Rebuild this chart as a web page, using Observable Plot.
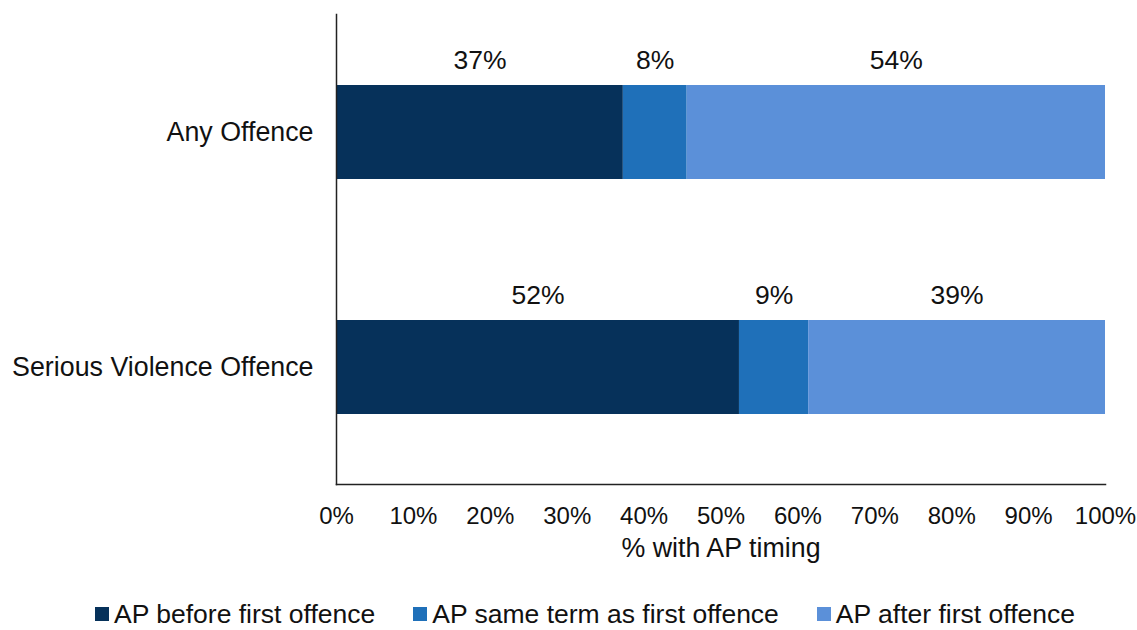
<!DOCTYPE html>
<html>
<head>
<meta charset="utf-8">
<script src="https://cdn.jsdelivr.net/npm/d3@7"></script>
<script src="https://cdn.jsdelivr.net/npm/@observablehq/plot@0.6"></script>
<style>
  html, body { margin: 0; padding: 0; background: #fff; }
  body { width: 1137px; height: 630px; overflow: hidden; font-family: "Liberation Sans", Arial, sans-serif; color: #111; position: relative; }
  #chart svg { display: block; }
  .legend { position: absolute; left: 0; top: 604px; width: 1137px; box-sizing: border-box; display: flex; justify-content: center; align-items: center; padding-left: 33px; font-size: 26.5px; line-height: 20px; }
  .legend .item { display: flex; align-items: center; margin: 0 19px; white-space: nowrap; }
  .legend .sw { width: 14px; height: 14px; margin-right: 5px; }
</style>
</head>
<body>
<div id="chart"></div>
<script>
const categories = ["Any Offence", "Serious Violence Offence"];
const series = ["AP before first offence", "AP same term as first offence", "AP after first offence"];
const anyOffence = [37.3, 8.3, 54.4];
const seriousViolence = [52.4, 9.0, 38.6];
const xTicks = [0, 10, 20, 30, 40, 50, 60, 70, 80, 90, 100];
const colors = ["#06315a", "#1f70b9", "#5b90d9"];
const xLabel = "% with AP timing";

const valuesByCategory = [anyOffence, seriousViolence];
const data = categories.flatMap((c, i) => series.map((s, j) => ({category: c, series: s, value: valuesByCategory[i][j]})));

const chart = Plot.plot({
  width: 1137,
  height: 580,
  marginLeft: 336,
  marginRight: 32,
  marginTop: 14,
  marginBottom: 96,
  style: {fontFamily: "'Liberation Sans', Arial, sans-serif", fontSize: "24px", color: "#111", background: "white"},
  x: {domain: [0, 100], label: null},
  y: {domain: categories, paddingInner: 0.6, paddingOuter: 0.3, label: null},
  color: {domain: series, range: colors},
  marks: [
    Plot.barX(data, {x: "value", y: "category", fill: "series"}),
    Plot.text(data, Plot.stackX({x: "value", y: "category", z: "series", text: d => Math.round(d.value) + "%", dy: -72, fontSize: 26.5, fill: "#111"})),
    Plot.frame({anchor: "left", stroke: "#222", strokeWidth: 1.5}),
    Plot.frame({anchor: "bottom", stroke: "#222", strokeWidth: 1.5}),
    Plot.axisX({ticks: xTicks, tickSize: 0, tickPadding: 22, tickFormat: d => d + "%", fontSize: 24, label: null}),
    Plot.axisY({tickSize: 0, tickPadding: 23, fontSize: 26.8, label: null}),
    Plot.text([xLabel], {frameAnchor: "bottom", dy: 72, fontSize: 26.8, fill: "#111"})
  ]
});
document.getElementById("chart").appendChild(chart);

const legend = document.createElement("div");
legend.className = "legend";
series.forEach((s, i) => {
  const item = document.createElement("div");
  item.className = "item";
  const sw = document.createElement("span");
  sw.className = "sw";
  sw.style.background = colors[i];
  const t = document.createElement("span");
  t.textContent = s;
  item.appendChild(sw);
  item.appendChild(t);
  legend.appendChild(item);
});
document.body.appendChild(legend);
</script>
</body>
</html>
